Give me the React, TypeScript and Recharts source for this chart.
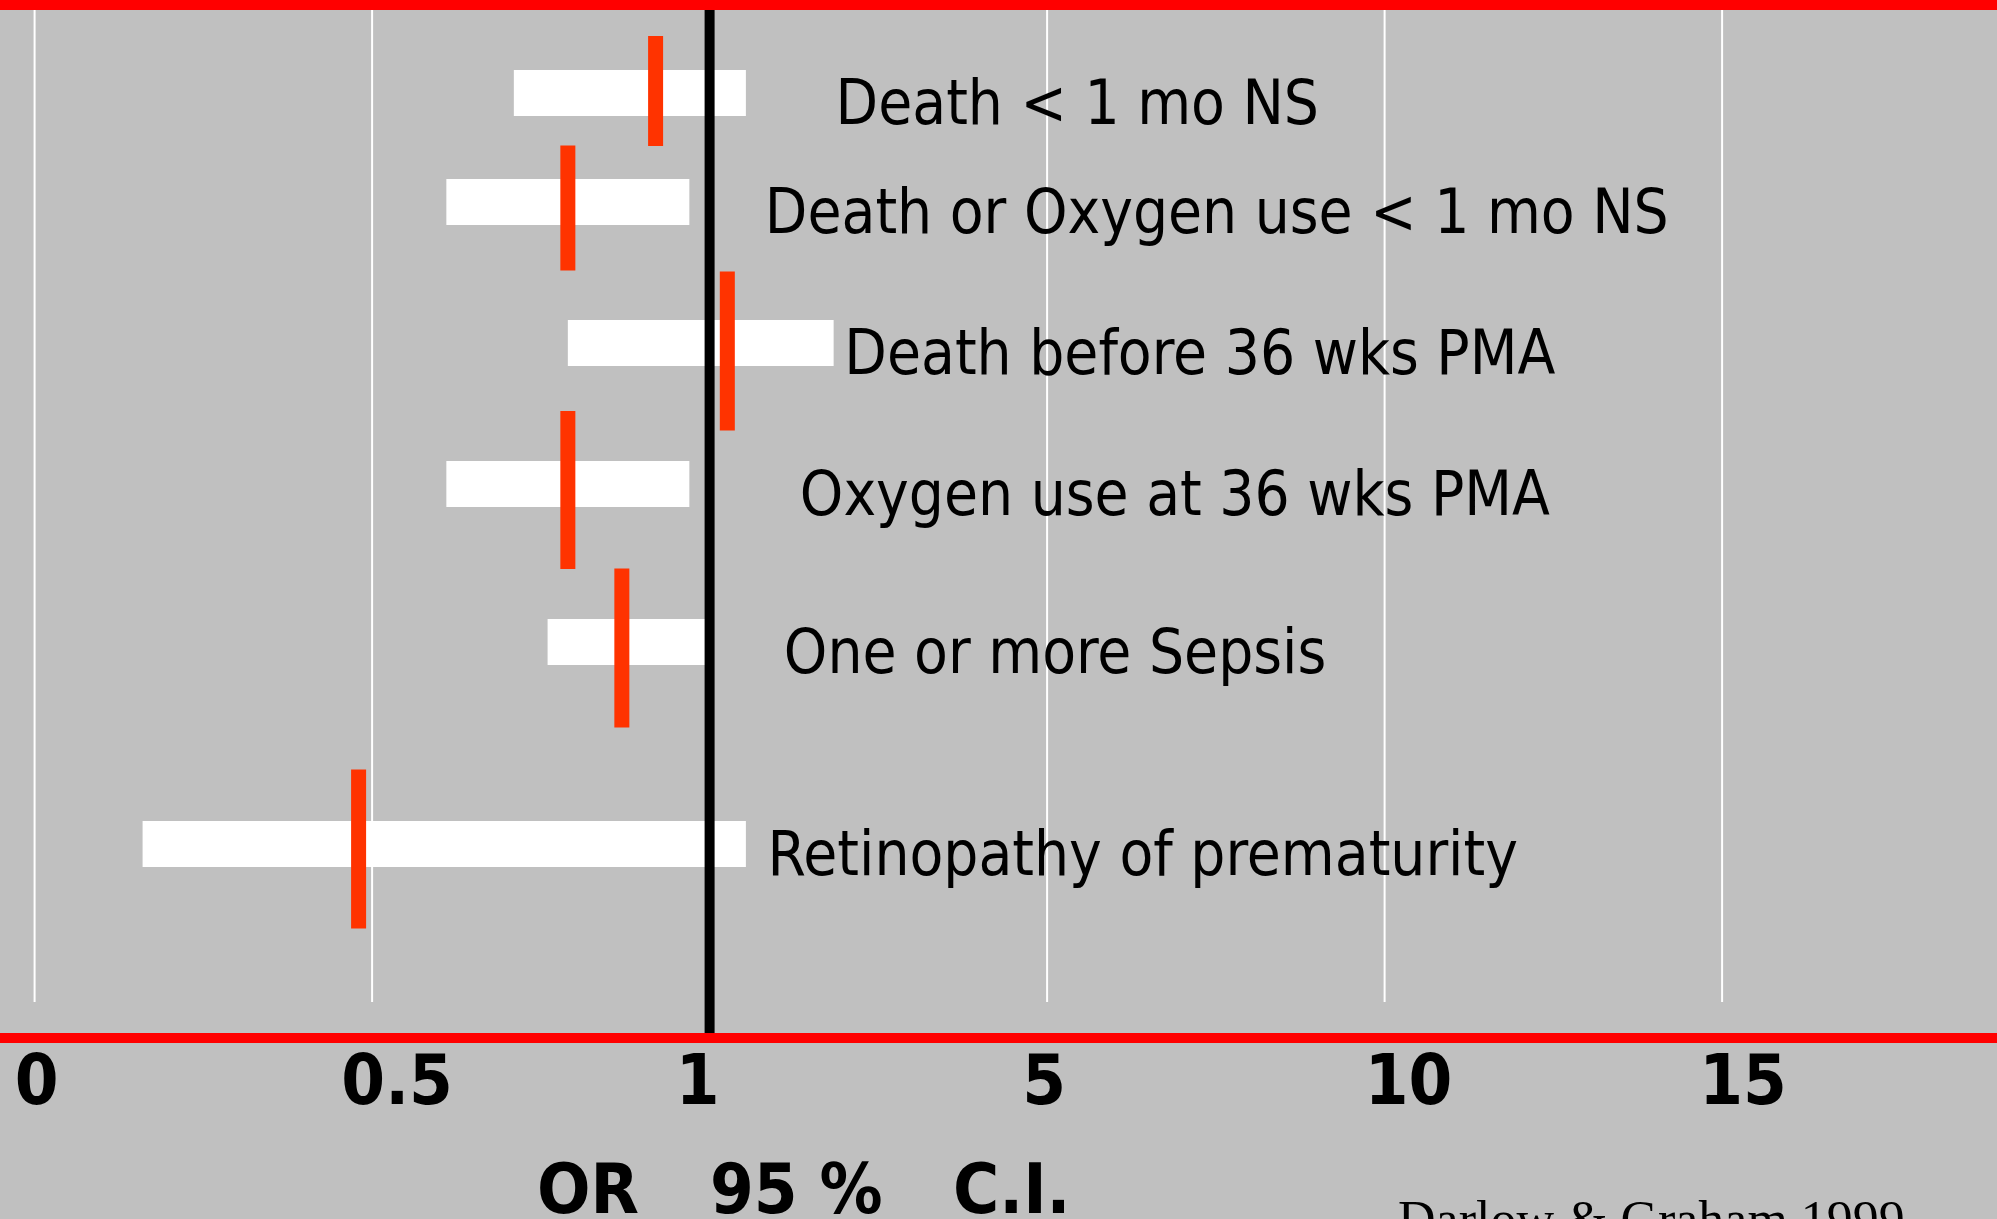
import React from "react";
import {
  CartesianGrid,
  ErrorBar,
  Label,
  ReferenceLine,
  Scatter,
  ScatterChart,
  XAxis,
  YAxis,
} from "recharts";

// Darlow & Graham 1999 - odds ratios with 95% CI
const OUTCOMES = [
  "Death < 1 mo NS",
  "Death or Oxygen use < 1 mo NS",
  "Death before 36 wks PMA",
  "Oxygen use at 36 wks PMA",
  "One or more Sepsis",
  "Retinopathy of prematurity",
];
const OR_EST = [0.92, 0.79, 1.21, 0.79, 0.87, 0.48];
const CI_LOW = [0.71, 0.61, 0.79, 0.61, 0.76, 0.16];
const CI_HIGH = [1.43, 0.97, 2.47, 0.97, 1.0, 1.43];
// vertical slot of each outcome on the slide (0 = top edge)
const ROW_POS = [0.93, 2.02, 3.43, 4.84, 6.42, 8.44];

// the axis is not linear: ticks are evenly spaced
const TICK_VALUES = [0, 0.5, 1, 5, 10, 15];
const TICK_LABELS = ["0", "0.5", "1", "5", "10", "15"];

const toPos = (v: number) => {
  for (let i = 0; i < TICK_VALUES.length - 1; i++) {
    const a = TICK_VALUES[i];
    const b = TICK_VALUES[i + 1];
    if (v <= b || i === TICK_VALUES.length - 2) return i + (v - a) / (b - a);
  }
  return 0;
};

const data = OUTCOMES.map((name, i) => {
  const pos = toPos(OR_EST[i]);
  return {
    name,
    row: i,
    pos,
    y: ROW_POS[i],
    ci: [pos - toPos(CI_LOW[i]), toPos(CI_HIGH[i]) - pos],
  };
});

// styling tweaks per row (pixels)
const MARKER_H = [110, 125, 159, 158, 159, 159];
const MARKER_DY = [-2, 6, 8, 6, 6, 5];
const LABEL_DX = [180, 197, 117, 232, 162, 409];
const TICK_DX = [2, 25, -12, -3, 24, 21];

const SANS = '"DejaVu Sans Condensed", "DejaVu Sans", sans-serif';

const MarkerWithLabel = (props: any) => {
  const { cx, cy, payload } = props;
  const i = payload.row;
  const h = MARKER_H[i];
  return (
    <g>
      <rect
        x={cx - 7.5}
        y={cy - h / 2 + MARKER_DY[i]}
        width={15}
        height={h}
        fill="#FF3300"
      />
      <text
        x={cx + LABEL_DX[i]}
        y={cy + 31}
        fontFamily={SANS}
        fontStretch="condensed"
        fontSize={61.5}
        fill="#000"
      >
        {payload.name}
      </text>
    </g>
  );
};

const AxisTick = (props: any) => {
  const { x, y, payload } = props;
  const i = Math.round(payload.value);
  return (
    <text
      x={x + TICK_DX[i]}
      y={y}
      dy={66}
      textAnchor="middle"
      fontFamily={SANS}
      fontStretch="condensed"
      fontWeight="bold"
      fontSize={70}
      fill="#000"
    >
      {TICK_LABELS[i]}
    </text>
  );
};

const AxisTitle = (props: any) => {
  const { viewBox } = props;
  const y = viewBox.y;
  return (
    <g>
      <text
        y={y + 175}
        fontFamily={SANS}
        fontStretch="condensed"
        fontWeight="bold"
        fontSize={70}
        fill="#000"
      >
        <tspan x={537}>OR</tspan>
        <tspan x={710}>95 %</tspan>
        <tspan x={953}>C.I.</tspan>
      </text>
      <text
        x={1398}
        y={y + 199}
        fontFamily='"Liberation Serif", serif'
        fontSize={52}
        fill="#000"
      >
        Darlow &amp; Graham 1999
      </text>
    </g>
  );
};

const GridLine = (props: any) => {
  const { x1, x2, y1, y2 } = props;
  // only the tick lines, not the plot edges
  if (x1 < 10 || x1 > 1987) return <g />;
  return (
    <line
      x1={x1}
      x2={x2}
      y1={y1 + 10}
      y2={y2 - 36}
      stroke="#FFFFFF"
      strokeWidth={2}
    />
  );
};

export default function App() {
  return (
    <div
      style={{
        position: "absolute",
        left: 0,
        top: 0,
        width: 1997,
        height: 1219,
        background: "#C0C0C0",
        overflow: "hidden",
      }}
    >
      <ScatterChart
        width={1997}
        height={1219}
        margin={{ top: 0, right: 0, bottom: 0, left: 0 }}
      >
        <CartesianGrid horizontal={false} vertical={GridLine} />
        <XAxis
          type="number"
          dataKey="pos"
          domain={[-0.1025, 5.8145]}
          ticks={[0, 1, 2, 3, 4, 5]}
          interval={0}
          allowDataOverflow
          height={181}
          tickLine={false}
          tickSize={0}
          tickMargin={0}
          axisLine={{ stroke: "#FF0000", strokeWidth: 10 }}
          tick={AxisTick}
        >
          <Label content={AxisTitle} />
        </XAxis>
        <YAxis type="number" dataKey="y" domain={[0, 10.38]} reversed hide />
        <Scatter
          data={data}
          shape={MarkerWithLabel}
          isAnimationActive={false}
        >
          <ErrorBar
            dataKey="ci"
            direction="x"
            width={0}
            stroke="#FFFFFF"
            strokeWidth={46}
            isAnimationActive={false}
          />
        </Scatter>
        <ReferenceLine x={toPos(1)} stroke="#000000" strokeWidth={10} />
        <ReferenceLine y={0} stroke="#FF0000" strokeWidth={20} />
      </ScatterChart>
    </div>
  );
}
